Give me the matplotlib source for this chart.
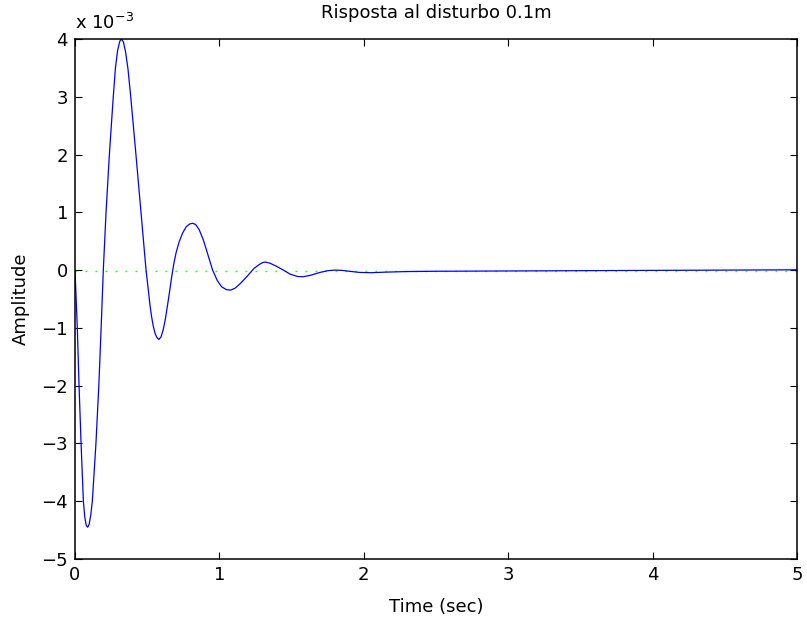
import matplotlib
matplotlib.use('Agg')
import matplotlib.pyplot as plt

# valori (ampiezza in unita' di 1e-3)
tempo = [0.000, 0.008, 0.016, 0.028, 0.042, 0.058, 0.068, 0.078, 0.088, 0.098,
         0.109, 0.120, 0.145, 0.165, 0.181, 0.196, 0.215, 0.238, 0.265, 0.280,
         0.295, 0.310, 0.322, 0.335, 0.350, 0.367, 0.386, 0.422, 0.457, 0.492,
         0.508, 0.519, 0.530, 0.542, 0.555, 0.568, 0.580, 0.595, 0.610, 0.625,
         0.640, 0.655, 0.670, 0.685, 0.700, 0.720, 0.745, 0.770, 0.795, 0.815,
         0.835, 0.860, 0.889, 0.920, 0.953, 0.985, 1.016, 1.050, 1.080, 1.110,
         1.150, 1.198, 1.240, 1.281, 1.300, 1.316, 1.350, 1.400, 1.443, 1.490,
         1.540, 1.581, 1.630, 1.697, 1.750, 1.800, 1.850, 1.900, 1.970, 2.050,
         2.150, 2.300, 2.500, 3.000, 3.500, 4.000, 4.500, 5.000]
ampiezza = [0.00, -0.50, -1.00, -2.00, -3.00, -4.00, -4.28, -4.42, -4.45, -4.40,
            -4.24, -4.00, -3.00, -2.00, -1.00, 0.00, 1.00, 2.00, 3.00, 3.50,
            3.80, 3.96, 4.00, 3.95, 3.78, 3.48, 3.00, 2.00, 1.00, 0.00,
            -0.35, -0.60, -0.80, -0.97, -1.10, -1.17, -1.20, -1.16, -1.04, -0.86,
            -0.62, -0.37, -0.11, 0.12, 0.30, 0.48, 0.64, 0.75, 0.80, 0.81,
            0.79, 0.70, 0.52, 0.27, 0.00, -0.18, -0.29, -0.34, -0.345, -0.31,
            -0.22, -0.09, 0.03, 0.105, 0.13, 0.14, 0.12, 0.06, 0.00, -0.07,
            -0.11, -0.115, -0.09, -0.04, -0.01, 0.00, -0.005, -0.02, -0.04, -0.045,
            -0.035, -0.025, -0.02, -0.015, -0.01, -0.005, 0.00, 0.005]
valore_finale = -0.02

xticks = [0, 1, 2, 3, 4, 5]
yticks = [-5, -4, -3, -2, -1, 0, 1, 2, 3, 4]

plt.rcParams['font.family'] = ['DejaVu Sans']
plt.rcParams['font.size'] = 13

fig = plt.figure(figsize=(8.07, 6.23), dpi=100)
ax = fig.add_axes([75/807, 64/623, 722/807, 520/623])

ax.plot([0, 5], [valore_finale, valore_finale], color=(0.0, 1.0, 0.0),
        linewidth=1.0, linestyle=(0, (1, 6.2)))
ax.plot(tempo, ampiezza, color='blue', linewidth=0.9)

ax.set_xlim(0, 5)
ax.set_ylim(-5, 4)
ax.set_xticks(xticks)
ax.set_yticks(yticks)
ax.tick_params(direction='in', length=5, width=0.8, top=True, right=True, pad=5)
for s in ax.spines.values():
    s.set_linewidth(1.1)

ax.set_title('Risposta al disturbo 0.1m', fontsize=13, pad=15)
ax.set_xlabel('Time (sec)')
ax.set_ylabel('Amplitude')
ax.xaxis.set_label_coords(0.5, -0.075)
ax.yaxis.set_label_coords(-0.062, 0.5)
ax.text(0.0, 1.012, r'x 10$^{-3}$', transform=ax.transAxes, ha='left', va='bottom')

fig.savefig('out.png', dpi=100)
